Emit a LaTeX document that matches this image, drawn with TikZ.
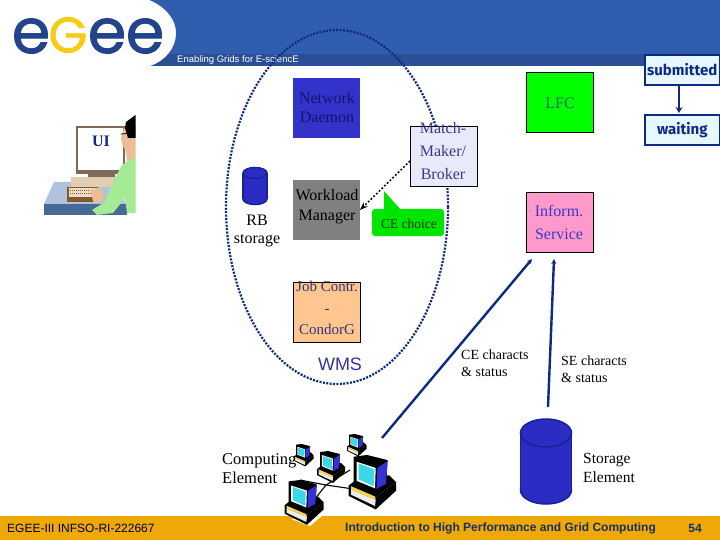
\documentclass[tikz,border=0pt]{standalone}
\usepackage{fontspec}
\setmainfont{Liberation Serif}
\setsansfont{Liberation Sans}
\newfontfamily\logofont[FakeBold=1.4]{Poppins}
\newfontfamily\comicfont{Fira Sans}
\usetikzlibrary{arrows.meta}
\definecolor{hdr}{RGB}{48,93,174}
\definecolor{hdrband}{RGB}{43,79,148}
\definecolor{foot}{RGB}{238,168,8}
\definecolor{navy}{RGB}{14,42,130}
\definecolor{logoblue}{RGB}{34,68,140}
\definecolor{logoyel}{RGB}{245,205,20}
\definecolor{cylfill}{RGB}{44,44,196}
\definecolor{cyledge}{RGB}{16,38,150}
\definecolor{scr}{RGB}{60,215,230}
\definecolor{pcblue}{RGB}{50,50,215}
\definecolor{darktxt}{RGB}{20,20,100}
\definecolor{lfctext}{RGB}{25,110,100}
\definecolor{shirt}{RGB}{165,235,150}
\definecolor{skin}{RGB}{235,190,150}
\definecolor{deskt}{RGB}{175,195,220}
\definecolor{deskf}{RGB}{70,105,150}
\definecolor{frm}{RGB}{125,105,85}
\definecolor{beige}{RGB}{225,205,175}
\tikzset{
 fbox/.style={draw=black,line width=.8pt,minimum width=67pt,minimum height=60pt,inner sep=0pt,anchor=north west},
 lbl/.style={font=\fontsize{16}{19}\selectfont,align=center,inner sep=0pt},
 lblw/.style={font=\fontsize{16}{23}\selectfont,align=center,inner sep=0pt},
 small/.style={font=\fontsize{14}{17}\selectfont,align=left,inner sep=0pt,anchor=north west},
 state/.style={draw=navy,line width=1.6pt,fill=cyan!10,minimum width=75pt,minimum height=30pt,inner sep=0pt,font=\comicfont\bfseries\fontsize{15}{18}\selectfont,text=navy},
 blueline/.style={draw=navy,line width=2.4pt},
 cyl/.style={draw=cyledge,line width=1.5pt,fill=cylfill},
 logoe/.style={font=\logofont\fontsize{62}{62}\selectfont,text=logoblue,inner sep=0pt},
}
\newcommand{\pcunit}[3]{%
\begin{scope}[shift={(#1,#2)},x=#3pt,y=-#3pt]
 \fill[black] (0,90)--(80,125)--(140,80)--(140,105)--(80,160)--(0,120)--cycle;
 \fill[black] (0,90)--(40,60)--(120,60)--(140,80)--(80,125)--cycle;
 \fill[logoyel!80!white] (8,92)--(78,122)--(80,132)--(8,102)--cycle;
 \fill[white!85!gray] (8,102)--(80,132)--(78,150)--(8,117)--cycle;
 \fill[black] (15,5)--(55,0)--(115,15)--(110,100)--(80,112)--(15,85)--cycle;
 \fill[pcblue] (85,38)--(115,18)--(110,85)--(82,100)--cycle;
 \fill[white] (24,20)--(80,38)--(78,98)--(24,76)--cycle;
 \fill[scr] (30,25)--(76,42)--(74,92)--(30,72)--cycle;
\end{scope}}
\begin{document}
\begin{tikzpicture}[x=1pt,y=-1pt]
\useasboundingbox (0,0) rectangle (720,540);
\fill[white] (0,0) rectangle (720,540);
% header
\fill[hdr] (0,0) rectangle (720,54);
\fill[hdrband] (0,54) rectangle (720,66);
\fill[white] (0,0)--(149,0) .. controls (166,7) and (176,20) .. (176,33) .. controls (176,48) and (165,61) .. (150,66)--(0,66)--cycle;
\node[logoe] (e1) at (31,36) {e};
\node[font=\logofont\fontsize{50}{50}\selectfont,text=logoyel,inner sep=0pt] (g1) at (68,35) {G};
\node[logoe] (e2) at (107,36) {e};
\node[logoe] (e3) at (145,36) {e};
\node[font=\sffamily\fontsize{9.5}{11}\selectfont,text=white,anchor=west,inner sep=0pt] (tag) at (177,60) {Enabling Grids for E-sciencE};
% footer
\fill[foot] (0,516) rectangle (720,540);
\node[font=\sffamily\fontsize{12}{14}\selectfont,text=black!75!blue,anchor=west,inner sep=0pt] (ft1) at (7,528) {EGEE-III INFSO-RI-222667};
\node[font=\sffamily\bfseries\fontsize{12}{14}\selectfont,text=logoblue!70!black,anchor=west,inner sep=0pt] (ft2) at (345,528) {Introduction to High Performance and Grid Computing};
\node[font=\sffamily\bfseries\fontsize{12}{14}\selectfont,text=logoblue!70!black,inner sep=0pt] (ft3) at (695,528) {54};
% WMS ellipse
\draw[navy,line width=2.2pt,dash pattern=on 2pt off 1.4pt] (337,207) ellipse [x radius=111,y radius=177];
% UI workstation
\fill[deskt] (54,182)--(110,182)--(127,204)--(44,204)--cycle;
\fill[deskf] (44,204) rectangle (127,215);
\fill[frm] (76,126) rectangle (125,174);
\fill[white] (78,128) rectangle (123,170);
\fill[frm] (88,174) rectangle (115,177);
\fill[beige] (71,177) rectangle (116,187);
\fill[black!30!brown] (67,187) rectangle (98,202);
\fill[beige!70!white] (69,188) rectangle (98,197);
\foreach \yy in {190,193}{\draw[black!30!brown,line width=.6pt,dash pattern=on 1pt off 1pt] (70,\yy)--(97,\yy);}
\fill[shirt] (135,157)--(122,165)--(113,182)--(105,202)--(92,210)--(97,215)--(113,213)--(125,198)--(127,213)--(135.5,213)--(135.5,157)--cycle;
\fill[skin] (90,190)--(98,188)--(104,192)--(103,200)--(94,204)--cycle;
\fill[skin] (124,128)--(121,138)--(122,144)--(126,152)--(127,162)--(135.5,157)--(135.5,125)--cycle;
\fill[black] (126,122)--(135.5,115)--(135.5,138)--(128,138)--(125,128)--cycle;
\draw[black,line width=.8pt] (121,134)--(135,133);
\node[font=\bfseries\fontsize{16}{18}\selectfont,text=navy,inner sep=0pt] (ui) at (101,141) {UI};
% RB storage
\draw[cyl] (255,199) ellipse [x radius=12,y radius=5.5];
\fill[cylfill] (243.5,173) rectangle (266.5,199);
\draw[cyledge,line width=1.5pt] (243,173)--(243,199) (267,173)--(267,199);
\draw[cyl] (255,173) ellipse [x radius=12,y radius=5.5];
\node[lbl] (rblab) at (257,220) {RB};
\node[font=\fontsize{16}{17}\selectfont,inner sep=0pt] (rbs) at (257,241) {storage};
% boxes
\node[fbox,draw=none,fill={rgb,255:red,51;green,51;blue,204}] (net) at (293,78) {};
\node[lbl,text=darktxt] (nettxt) at (327,108) {Network\\Daemon};
\node[fbox,draw=none,fill=black!50] (wm) at (293,180) {};
\node[font=\fontsize{16}{20}\selectfont,align=center,inner sep=0pt] (wmtxt) at (327,207) {Workload\\Manager};
\node[fbox,fill={rgb,255:red,232;green,234;blue,252}] (match) at (410,126) {};
\node[lblw,text=black!45!blue!55!gray] (matchtxt) at (443,151) {Match-\\Maker/\\Broker};
\node[fbox,fill={rgb,255:red,0;green,255;blue,0}] (lfc) at (526,72) {};
\node[lbl,text=lfctext] (lfctxt) at (560,103) {LFC};
\node[fbox,fill={rgb,255:red,255;green,153;blue,204}] (is) at (526,192) {};
\node[lblw,text=blue!55!gray] (istxt) at (559,222) {Inform.\\Service};
\node[fbox,fill={rgb,255:red,255;green,198;blue,144}] (job) at (293,282) {};
\node[font=\fontsize{15}{21.5}\selectfont,align=center,inner sep=0pt,text=black!55!blue!60!gray] (jobtxt) at (327,308) {Job Contr.\\-\\CondorG};
\node[font=\sffamily\fontsize{18}{20}\selectfont,text=blue!50!gray!80!black,inner sep=0pt] (wms) at (340,364) {WMS};
% CE choice callout
\fill[green!90!black,rounded corners=3pt] (372,209) rectangle (444,236);
\fill[green!90!black] (384,191)--(401,210)--(384,210)--cycle;
\node[font=\fontsize{13.5}{15}\selectfont,text=green!25!black,inner sep=0pt] (cechoice) at (409,224) {CE choice};
% dotted arrow from match-maker to workload manager
\coordinate (mmout) at (410,161);
\coordinate (wmin) at (360,210);
\draw[black,line width=1.5pt,dash pattern=on 1.8pt off 2pt,-{Stealth[length=8pt,width=6pt]}] (mmout)--(wmin);
% states
\node[state,anchor=north west] (sub) at (644,54) {submitted};
\node[state,anchor=north west] (wait) at (644,114) {waiting};
\coordinate (subout) at (679,84);
\coordinate (waitin) at (679,113);
\draw[navy,line width=2pt,-{Stealth[length=6pt,width=7pt]}] (subout)--(waitin);
% computing element
\node[font=\fontsize{16.5}{19}\selectfont,align=left,inner sep=0pt,anchor=north west] (cetxt) at (222,453) {Computing\\Element};
\coordinate (n1) at (300,480);
\coordinate (n2) at (326,485);
\coordinate (n3) at (350,470);
\coordinate (n4) at (360,490);
\coordinate (n5) at (310,505);
\draw[black,line width=1.1pt] (n1)--(n2) (n2)--(n3) (n2)--(n4) (n2)--(n5);
\fill[white] (291,519)--(310,526)--(322,516)--cycle;
\pcunit{347}{434}{.14}
\pcunit{294}{444}{.14}
\pcunit{317}{451}{.2}
\pcunit{348.5}{455}{.34}
\pcunit{284.5}{480}{.28}
% information lines
\coordinate (cestart) at (382,438);
\coordinate (isin1) at (532,259);
\coordinate (sestart) at (548,407);
\coordinate (isin2) at (554,259);
\draw[blueline,-{Stealth[length=5pt,width=5pt]}] (cestart)--(isin1);
\draw[blueline,-{Stealth[length=5pt,width=5pt]}] (sestart)--(isin2);
\node[small] (cetext) at (461,350) {CE characts\\\& status};
\node[small] (setext) at (561,356) {SE characts\\\& status};
% storage element
\draw[cyl] (546,490) ellipse [x radius=25.5,y radius=14];
\fill[cylfill] (521,433) rectangle (571,490);
\draw[cyledge,line width=1.5pt] (520.5,433)--(520.5,490) (571.5,433)--(571.5,490);
\draw[cyl] (546,433) ellipse [x radius=25.5,y radius=14];
\node[font=\fontsize{15.5}{19}\selectfont,align=left,inner sep=0pt,anchor=north west] (setxt) at (583,453) {Storage\\Element};
\end{tikzpicture}
\end{document}
